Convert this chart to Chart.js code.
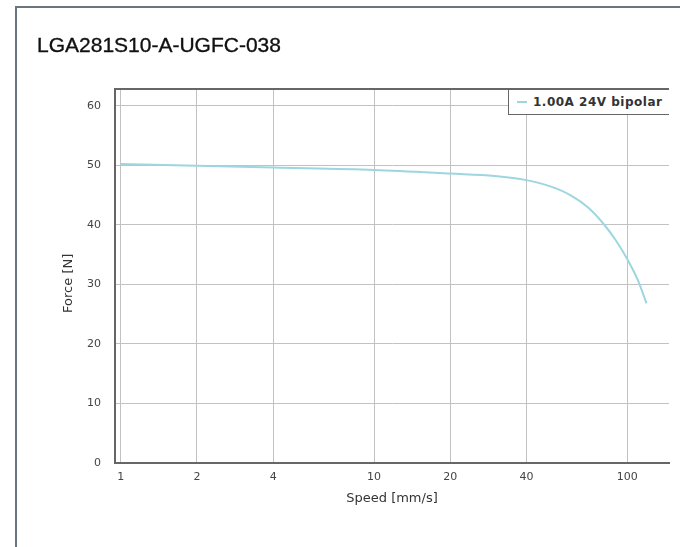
<!DOCTYPE html>
<html>
<head>
<meta charset="utf-8">
<script src="https://cdn.jsdelivr.net/npm/chart.js@4/dist/chart.umd.min.js"></script>
<style>
  html, body { margin: 0; padding: 0; background: #fff; }
  #wrap { position: relative; width: 680px; height: 547px; overflow: hidden; }
  #frame { position: absolute; left: 15px; top: 6px; width: 700px; height: 600px;
           border-left: 2px solid #6b7580; border-top: 2px solid #6b7580; }
  #title { position: absolute; left: 37px; top: 34px; font: 21px "Liberation Sans", Arial, sans-serif;
           line-height: 21px; color: #111; white-space: nowrap; -webkit-text-stroke: 0.35px #111; }
  #legend { position: absolute; left: 508px; top: 88px; width: 161px; height: 27px; box-sizing: border-box;
            background: #fff; border-left: 1.5px solid #666; border-top: 2px solid #666; border-bottom: 1.5px solid #666;
            font: bold 12px "DejaVu Sans", sans-serif; letter-spacing: 0.5px; color: #333; line-height: 24px; white-space: nowrap; }
  #legend .swatch { display: inline-block; width: 10px; height: 0; border-top: 2px solid #9dd6df;
                    vertical-align: middle; margin: 0 6px 0 8px; position: relative; top: -1px; }
  canvas { position: absolute; left: 0; top: 0; }
</style>
</head>
<body>
<div id="wrap">
  <canvas id="chart" width="680" height="547"></canvas>
  <div id="frame"></div>
  <div id="title">LGA281S10-A-UGFC-038</div>
  <div id="legend"><span class="swatch"></span>1.00A 24V bipolar</div>
</div>
<script>
// speed [mm/s] and force [N]
var speeds = [1, 2, 4, 10, 20, 30, 40, 50, 60, 70, 80, 90, 100, 110, 119];
var forces = [50.2, 49.9, 49.6, 49.2, 48.6, 48.2, 47.5, 46.4, 44.9, 42.9, 40.3, 37.4, 34.2, 30.7, 26.8];
var seriesLabel = '1.00A 24V bipolar';
var xTicks = [1, 2, 4, 10, 20, 40, 100];
var yTicks = [0, 10, 20, 30, 40, 50, 60];
var yTitle = 'Force [N]';

var points = [];
for (var i = 0; i < speeds.length; i++) {
    points.push({x: speeds[i], y: forces[i]});
}

var tickFont = {family: 'DejaVu Sans', size: 11};
var titleFont = {family: 'DejaVu Sans', size: 13};

// dark line along the top of the plot area, and the y axis title
// (the reference puts it a bit below the middle of the axis)
var extras = {
    id: 'extras',
    afterDraw: function(chart) {
        var a = chart.chartArea, ctx = chart.ctx;
        ctx.save();
        ctx.strokeStyle = '#666';
        ctx.lineWidth = 2;
        ctx.beginPath();
        ctx.moveTo(a.left - 1, a.top);
        ctx.lineTo(a.right, a.top);
        ctx.stroke();

        var y = chart.scales.y;
        ctx.translate(68.5, y.getPixelForValue(30) - 1);
        ctx.rotate(-Math.PI / 2);
        ctx.font = '13px "DejaVu Sans"';
        ctx.fillStyle = '#333';
        ctx.textAlign = 'center';
        ctx.textBaseline = 'middle';
        ctx.fillText(yTitle, 0, 0);
        ctx.restore();
    }
};

new Chart(document.getElementById('chart'), {
    type: 'line',
    data: {
        datasets: [{
            label: seriesLabel,
            data: points,
            borderColor: '#9dd6df',
            borderWidth: 2,
            pointRadius: 0,
            fill: false,
            cubicInterpolationMode: 'monotone'
        }]
    },
    options: {
        responsive: false,
        animation: false,
        devicePixelRatio: 1,
        layout: {padding: {top: 89, right: 11, left: 0, bottom: 0}},
        plugins: {
            legend: {display: false},
            tooltip: {enabled: false}
        },
        scales: {
            x: {
                type: 'logarithmic',
                min: 0.95,
                max: 146,
                afterBuildTicks: function(s) {
                    s.ticks = xTicks.map(function(v) { return {value: v}; });
                },
                afterFit: function(s) { s.height = 84; },
                ticks: {
                    font: tickFont, color: '#444', padding: 8, maxRotation: 0, autoSkip: false,
                    callback: function(v) { return String(v); }
                },
                grid: {color: '#c2c2c2', lineWidth: 1, drawTicks: false},
                border: {color: '#666', width: 2},
                title: {display: true, text: 'Speed [mm/s]', font: titleFont, color: '#333',
                        padding: {top: 0, bottom: 41}}
            },
            y: {
                min: 0,
                max: 62.8,
                afterBuildTicks: function(s) {
                    s.ticks = yTicks.map(function(v) { return {value: v}; });
                },
                afterFit: function(s) { s.width = 115; },
                ticks: {font: tickFont, color: '#444', padding: 14},
                grid: {color: '#c2c2c2', lineWidth: 1, drawTicks: false},
                border: {color: '#666', width: 2},
                title: {display: false}
            }
        }
    },
    plugins: [extras]
});
</script>
</body>
</html>
